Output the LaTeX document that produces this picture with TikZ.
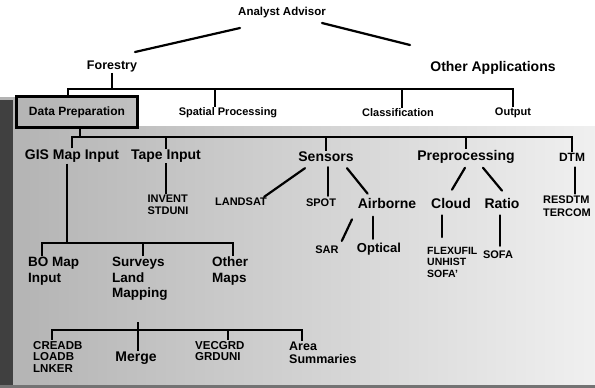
\documentclass[tikz,border=0pt]{standalone}
\usepackage{fontspec}
\setmainfont{Liberation Sans}
\usetikzlibrary{calc}
\begin{document}
\begin{tikzpicture}[x=1pt,y=-1pt,
  every node/.style={inner sep=1pt},
  head/.style={font=\bfseries\fontsize{11.5}{13}\selectfont},
  branch/.style={font=\bfseries\fontsize{12.5}{14}\selectfont},
  task/.style={font=\bfseries\fontsize{11}{13}\selectfont},
  item/.style={font=\bfseries\fontsize{14}{16}\selectfont},
  sensor/.style={font=\bfseries\fontsize{11}{12}\selectfont},
  stack/.style={font=\bfseries\fontsize{13.5}{15.5}\selectfont, align=left, anchor=north west},
  code/.style={font=\bfseries\fontsize{11}{12.5}\selectfont, align=left},
  link/.style={line width=2.2pt, line cap=round},
  bar/.style={line width=2pt}]

\useasboundingbox (0,0) rectangle (595,388);

% worn, grainy lower panel
\fill[left color=black!30, middle color=black!19, right color=black!6]
  (0,97) -- (138,97) -- (138,126) -- (595,126) -- (595,388) -- (0,388) -- cycle;
\fill[black!75] (0,100) rectangle (13,388);
\draw[black!55, line width=3pt] (0,386) -- (595,386);

% root and application branches
\node[head]   (aa)  at (282,13) {Analyst Advisor};
\node[branch] (for) at (112,66) {Forestry};
\node[branch, font=\bfseries\fontsize{14}{16}\selectfont] (oa) at (493,68) {Other Applications};
\draw[link] ($(aa)+(-42,15)$) -- ($(for)+(23,-14)$);
\draw[link] ($(aa)+(40,10)$) -- ($(oa)+(-83,-23)$);

% forestry tasks
\node[task, font=\bfseries\fontsize{12}{14}\selectfont, draw, line width=2.2pt,
      minimum width=121, minimum height=31] (dp) at (77,112) {Data Preparation};
\node[task] (sp)  at (228,113) {Spatial Processing};
\node[task] (cl)  at (398,113) {Classification};
\node[task] (out) at (513,113) {Output};

\coordinate (busA) at (0,89);
\draw[bar] (for.south) -- (for.south |- busA);
\draw[bar] (dp.north -| 68,0) |- (out.north |- busA) -- (out.north);
\draw[bar] (sp.north -| 215,0) -- (215,89);
\draw[bar] (cl.north -| 402,0) -- (402,89);

% data preparation stages
\node[item] (gis) at (72,156)  {GIS Map Input};
\node[item] (tape) at (166,156) {Tape Input};
\node[item] (sen) at (326,157) {Sensors};
\node[item] (pre) at (466,157) {Preprocessing};
\node[item, font=\bfseries\fontsize{12}{14}\selectfont] (dtm) at (572,157) {DTM};

\coordinate (busB) at (0,137);
\draw[bar] (dp.south -| 80,0) -- (80,137);
\draw[bar] (gis.north) |- (dtm.north |- busB) -- (dtm.north);
\draw[bar] (tape.north |- busB) -- (tape.north);
\draw[bar] (sen.north |- busB) -- (sen.north);
\draw[bar] (pre.north |- busB) -- (pre.north);

% tape and sensor sources
\node[code] (inv) at (168,205) {INVENT\\STDUNI};
\node[sensor] (land) at (241,202) {LANDSAT};
\node[sensor] (spot) at (321,203) {SPOT};
\node[item] (air) at (387,203) {Airborne};
\draw[bar] (tape.south) -- (tape.south |- inv.north);
\draw[link] ($(sen.south)+(-21,5)$) -- ($(land.north east)+(-4,0)$);
\draw[link] ($(sen.south)+(2,4)$) -- ($(sen.south |- spot.north)+(2,-2)$);
\draw[link] ($(sen.south)+(21,5)$) -- ($(air.north west)+(11,-3)$);

% preprocessing
\node[item] (cloud) at (451,203) {Cloud};
\node[item] (ratio) at (502,203) {Ratio};
\node[code] (res) at (567,206) {RESDTM\\TERCOM};
\draw[link] ($(pre.south)+(-1,3)$) -- ($(cloud.north)+(1,-7)$);
\draw[link] ($(pre.south)+(17,3)$) -- ($(ratio.north)+(0,-6)$);
\draw[link] ($(dtm.south)+(3,5)$) -- ($(dtm.south |- res.north)+(3,-1)$);

% airborne and correction products
\node[sensor] (sar) at (327,250) {SAR};
\node[item, font=\bfseries\fontsize{13}{15}\selectfont] (opt) at (379,249) {Optical};
\node[code, anchor=north west, font=\bfseries\fontsize{10.5}{11.5}\selectfont] (flex) at (426,246) {FLEXUFIL\\UNHIST\\SOFA'};
\node[code] (sofa) at (498,255) {SOFA};
\draw[link] ($(air.south)+(-35,10)$) -- ($(sar.north east)+(2,-4)$);
\draw[link] ($(opt.north)+(-6,-25)$) -- ($(opt.north)+(-6,-3)$);
\draw[link] ($(cloud.south)+(-9,6)$) -- ($(flex.north west)+(16,-9)$);
\draw[link] ($(ratio.south)+(-2,6)$) -- ($(sofa.north)+(2,-4)$);

% map input sources
\node[stack] (bo)  at (27,256)  {BO Map\\Input};
\node[stack] (sur) at (111,256) {Surveys\\Land\\Mapping};
\node[stack] (oth) at (211,256) {Other\\Maps};
\draw[bar] (gis.south -| 67,0) -- (67,243);
\draw[bar] (bo.north -| 42,0) |- (233,243) -- (oth.north -| 233,0);
\draw[bar] (sur.north -| 143,0) -- (143,243);

% map processing steps
\node[code, anchor=north west, font=\bfseries\fontsize{11.5}{11.5}\selectfont] (crea) at (32,340) {CREADB\\LOADB\\LNKER};
\node[item] (merge) at (136,358) {Merge};
\node[code, anchor=north west, font=\bfseries\fontsize{11.5}{11.5}\selectfont] (vec) at (194,340) {VECGRD\\GRDUNI};
\node[stack, font=\bfseries\fontsize{12.5}{12.5}\selectfont] (area) at (288,341) {Area\\Summaries};
\draw[bar] (crea.north -| 52,0) |- (302,330) -- (area.north -| 302,0);
\draw[bar] (138,322) -- (merge.north -| 138,0);
\draw[bar] (228,330) -- (vec.north -| 228,0);

\end{tikzpicture}
\end{document}
